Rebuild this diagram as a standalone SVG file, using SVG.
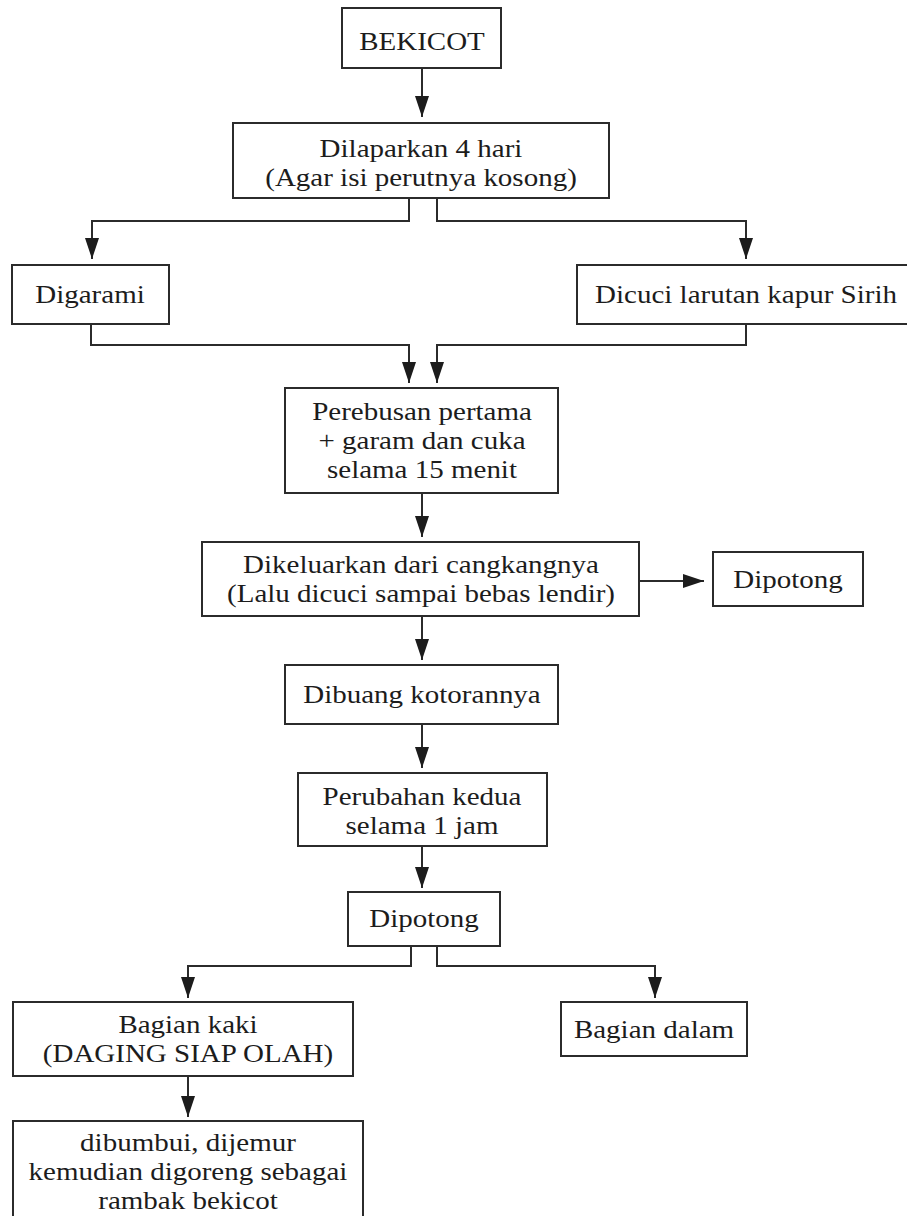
<svg xmlns="http://www.w3.org/2000/svg" width="907" height="1216" viewBox="0 0 907 1216">
<style>
.box{fill:#fff;stroke:#2b2b2b;stroke-width:2}
.t{font-family:"Liberation Serif","Times New Roman",serif;font-size:25px;fill:#1c1c1c;text-anchor:middle}
.c{fill:none;stroke:#2b2b2b;stroke-width:2}
</style>
<defs>
<marker id="ah" markerUnits="userSpaceOnUse" markerWidth="22" markerHeight="16" refX="21" refY="7" orient="auto">
<path d="M0,0 L21,7 L0,14 z" fill="#1c1c1c"/>
</marker>
</defs>
<rect width="907" height="1216" fill="#fff"/>
<g id="connectors">
<path class="c" d="M422,68 V117" marker-end="url(#ah)"/>
<path class="c" d="M409,198 V221 H92 V259" marker-end="url(#ah)"/>
<path class="c" d="M437,198 V221 H746 V259" marker-end="url(#ah)"/>
<path class="c" d="M91,324 V345 H409 V383" marker-end="url(#ah)"/>
<path class="c" d="M746,324 V345 H437 V383" marker-end="url(#ah)"/>
<path class="c" d="M422,493 V537" marker-end="url(#ah)"/>
<path class="c" d="M639,581 H704" marker-end="url(#ah)"/>
<path class="c" d="M422,616 V660" marker-end="url(#ah)"/>
<path class="c" d="M422,724 V768" marker-end="url(#ah)"/>
<path class="c" d="M422,846 V888" marker-end="url(#ah)"/>
<path class="c" d="M411,946 V966 H188 V998" marker-end="url(#ah)"/>
<path class="c" d="M437,946 V966 H655 V998" marker-end="url(#ah)"/>
<path class="c" d="M188,1076 V1117" marker-end="url(#ah)"/>
</g>
<g id="bekicot"><rect class="box" x="342" y="8" width="159" height="60"/><text class="t" transform="translate(422,50) scale(1.16,1)">BEKICOT</text></g>
<g id="dilaparkan"><rect class="box" x="233" y="123" width="376" height="75"/><text class="t" transform="translate(421,157) scale(1.16,1)">Dilaparkan 4 hari</text><text class="t" transform="translate(421,186) scale(1.16,1)">(Agar isi perutnya kosong)</text></g>
<g id="digarami"><rect class="box" x="12" y="265" width="157" height="59"/><text class="t" transform="translate(90,303) scale(1.16,1)">Digarami</text></g>
<g id="dicuci"><rect class="box" x="577" y="265" width="340" height="59"/><text class="t" transform="translate(746,303) scale(1.16,1)">Dicuci larutan kapur Sirih</text></g>
<g id="perebusan"><rect class="box" x="285" y="388" width="273" height="105"/><text class="t" transform="translate(422,420) scale(1.16,1)">Perebusan pertama</text><text class="t" transform="translate(422,449) scale(1.16,1)">+ garam dan cuka</text><text class="t" transform="translate(422,478) scale(1.16,1)">selama 15 menit</text></g>
<g id="dikeluarkan"><rect class="box" x="202" y="542" width="437" height="74"/><text class="t" transform="translate(421,573) scale(1.16,1)">Dikeluarkan dari cangkangnya</text><text class="t" transform="translate(421,602) scale(1.16,1)">(Lalu dicuci sampai bebas lendir)</text></g>
<g id="dipotong1"><rect class="box" x="713" y="552" width="150" height="54"/><text class="t" transform="translate(788,588) scale(1.16,1)">Dipotong</text></g>
<g id="dibuang"><rect class="box" x="285" y="665" width="273" height="59"/><text class="t" transform="translate(422,703) scale(1.16,1)">Dibuang kotorannya</text></g>
<g id="perubahan"><rect class="box" x="298" y="773" width="249" height="73"/><text class="t" transform="translate(422,805) scale(1.16,1)">Perubahan kedua</text><text class="t" transform="translate(422,834) scale(1.16,1)">selama 1 jam</text></g>
<g id="dipotong2"><rect class="box" x="348" y="892" width="152" height="54"/><text class="t" transform="translate(424,927) scale(1.16,1)">Dipotong</text></g>
<g id="bagiankaki"><rect class="box" x="13" y="1002" width="340" height="74"/><text class="t" transform="translate(188,1033) scale(1.16,1)">Bagian kaki</text><text class="t" transform="translate(188,1062) scale(1.16,1)">(DAGING SIAP OLAH)</text></g>
<g id="bagiandalam"><rect class="box" x="561" y="1002" width="186" height="54"/><text class="t" transform="translate(654,1038) scale(1.16,1)">Bagian dalam</text></g>
<g id="dibumbui"><rect class="box" x="13" y="1121" width="350" height="110"/><text class="t" transform="translate(188,1151) scale(1.16,1)">dibumbui, dijemur</text><text class="t" transform="translate(188,1180) scale(1.16,1)">kemudian digoreng sebagai</text><text class="t" transform="translate(188,1209) scale(1.16,1)">rambak bekicot</text></g>
</svg>
